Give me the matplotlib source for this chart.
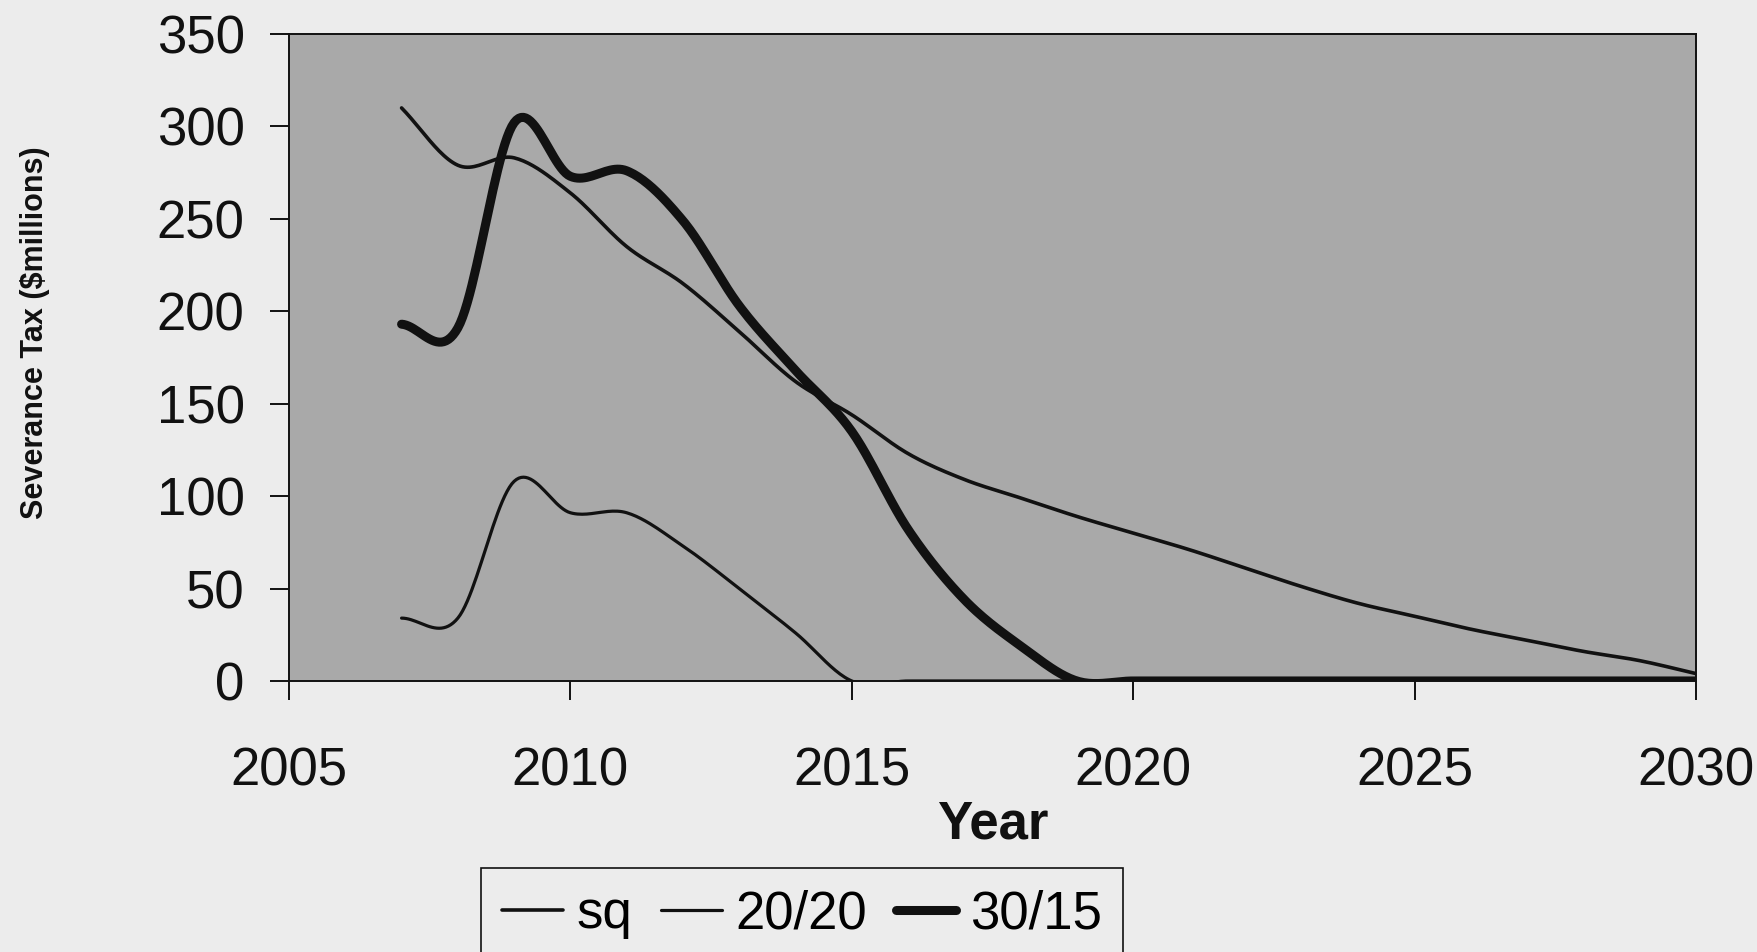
# Severance tax projections for three scenarios (sq, 20/20, 30/15), 2007-2030.
import numpy as np
import matplotlib
matplotlib.use("Agg")
import matplotlib.pyplot as plt

plt.rcParams["font.family"] = ["Liberation Sans", "DejaVu Sans"]

# ---- data ($ millions per year) ----
years = list(range(2007, 2031))
sq = [310, 279, 283, 264, 235, 215, 189, 162, 144, 123, 109, 99,
      89, 80, 71, 61, 51, 42, 35, 28, 22, 16, 11, 4]
s20_20 = [34, 34, 108, 91, 91, 73, 50, 26, 0, 0, 0, 0,
          0, 0, 0, 0, 0, 0, 0, 0, 0, 0, 0, 0]
s30_15 = [193, 191, 302, 273, 276, 249, 203, 168, 135, 82, 44, 19,
          0, 0, 0, 0, 0, 0, 0, 0, 0, 0, 0, 0]

x_ticks = [2005, 2010, 2015, 2020, 2025, 2030]
y_ticks = [0, 50, 100, 150, 200, 250, 300, 350]

FIG_BG = "#ececec"
PLOT_BG = "#a9a9a9"
INK = "#111111"


def smooth(x, y, n=24):
    """Catmull-Rom curve through the points, like a spreadsheet 'smoothed line'."""
    x = np.asarray(x, float)
    y = np.asarray(y, float)
    m = np.empty_like(y)
    m[1:-1] = (y[2:] - y[:-2]) / (x[2:] - x[:-2])
    m[0] = (y[1] - y[0]) / (x[1] - x[0])
    m[-1] = (y[-1] - y[-2]) / (x[-1] - x[-2])
    xs, ys = [], []
    for i in range(len(x) - 1):
        h = x[i + 1] - x[i]
        t = np.linspace(0, 1, n, endpoint=False)
        h00 = 2 * t**3 - 3 * t**2 + 1
        h10 = t**3 - 2 * t**2 + t
        h01 = -2 * t**3 + 3 * t**2
        h11 = t**3 - t**2
        xs.append(x[i] + t * h)
        ys.append(h00 * y[i] + h10 * h * m[i] + h01 * y[i + 1] + h11 * h * m[i + 1])
    xs.append([x[-1]])
    ys.append([y[-1]])
    return np.concatenate(xs), np.concatenate(ys)


fig = plt.figure(figsize=(17.58, 9.52), dpi=100, facecolor=FIG_BG)
ax = fig.add_axes([0.1644, 0.2847, 0.8003, 0.6796], facecolor=PLOT_BG)

for vals, lw, lab in [(sq, 2.6, "sq"), (s20_20, 2.3, "20/20"), (s30_15, 6.5, "30/15")]:
    xs, ys = smooth(years, vals)
    ax.plot(xs, ys, color=INK, lw=lw, label=lab, solid_capstyle="round")

ax.set_xlim(2005, 2030)
ax.set_ylim(0, 350)
ax.set_xticks(x_ticks)
ax.set_yticks(y_ticks)

for s in ax.spines.values():
    s.set_color(INK)
    s.set_linewidth(1.4)

ax.tick_params(axis="both", direction="out", length=14, width=1.4,
               colors=INK, labelsize=38)
ax.tick_params(axis="x", pad=33)
ax.tick_params(axis="y", pad=18)

ax.set_xlabel("Year", fontsize=38, fontweight="bold", color=INK, labelpad=2)
fig.text(35 / 1758, 1 - 333 / 952, "Severance Tax ($millions)", rotation=90,
         ha="center", va="center", fontsize=22, fontweight="bold", color=INK)

leg = fig.legend(loc="upper center", bbox_to_anchor=(802 / 1758, 1 - 868 / 952),
                 ncol=3, fontsize=38, frameon=True, fancybox=False,
                 edgecolor=INK, facecolor=FIG_BG, framealpha=1,
                 handlelength=1.15, handletextpad=0.25, columnspacing=0.55,
                 borderpad=0.4, borderaxespad=0)
leg.get_frame().set_linewidth(1.2)

fig.savefig("out.png", dpi=100, facecolor=FIG_BG)
